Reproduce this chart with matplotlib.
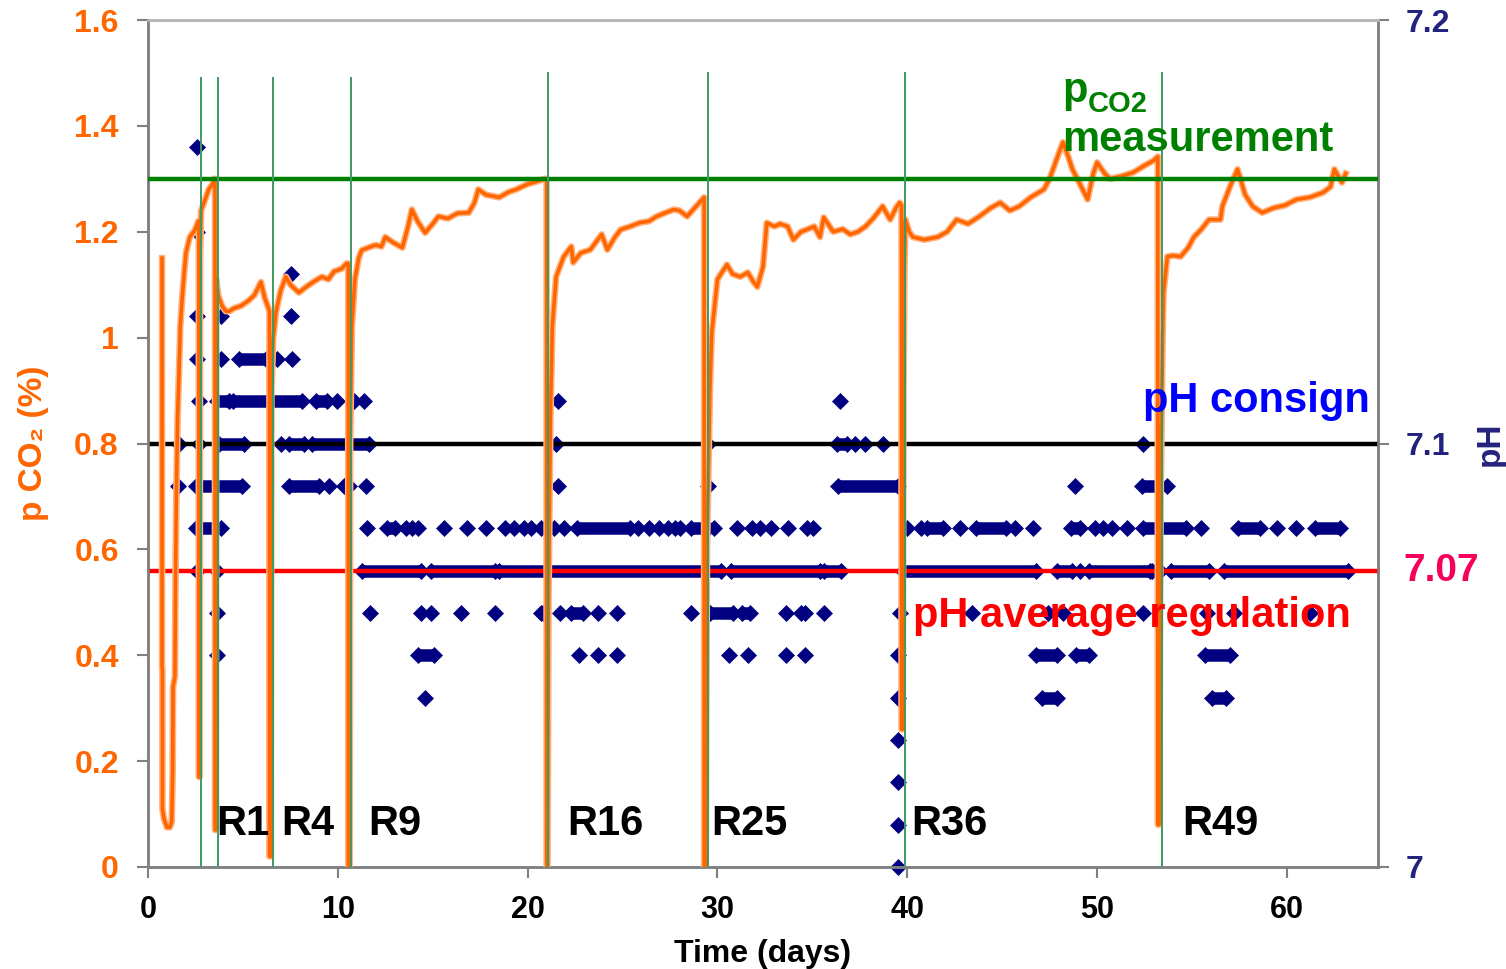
import matplotlib
matplotlib.use("Agg")
import matplotlib.pyplot as plt

plt.rcParams['font.family'] = ['Liberation Sans', 'DejaVu Sans']
plt.rcParams['font.weight'] = 'bold'

# ---------------- data ----------------
# pCO2 measurement (%), time in days
pco2_days = [
    0.74, 0.74, 0.76, 0.76, 0.85, 1.0, 1.15, 1.25, 1.3, 1.32, 1.42, 1.45, 1.5, 1.56, 1.63, 1.7, 1.79, 1.9,
    2.0, 2.2, 2.42, 2.55, 2.65,
    2.68, 2.68, 2.72, 2.74, 2.8, 3.0, 3.2, 3.4, 3.5,
    3.53, 3.53, 3.58, 3.6, 3.7, 3.9, 4.1, 4.3, 4.5, 4.9, 5.3, 5.6, 5.95, 6.15, 6.3,
    6.4, 6.4, 6.47, 6.5, 6.6, 6.75, 7.0, 7.26, 7.5, 7.95, 8.3, 8.7, 9.16, 9.5, 9.8, 10.2, 10.45,
    10.55, 10.55, 10.62, 10.65, 10.74, 10.9, 11.1, 11.26, 11.6, 12.0, 12.3, 12.5, 12.9, 13.4, 13.7, 13.9,
    14.2, 14.6, 15.0, 15.3, 15.8, 16.3, 16.9, 17.2, 17.4, 17.8, 18.5, 19.0, 19.4, 20.0, 20.5, 20.9,
    21.0, 21.0, 21.05, 21.1, 21.2, 21.3, 21.5, 21.9, 22.3, 22.4, 22.8, 23.3, 23.9, 24.2, 24.6, 24.9,
    25.4, 25.9, 26.4, 26.8, 27.2, 27.7, 28.0, 28.4, 28.8, 29.2,
    29.3, 29.3, 29.38, 29.45, 29.6, 29.7, 30.0, 30.5, 30.8, 31.2, 31.6, 31.9, 32.1, 32.4, 32.6, 33.0,
    33.3, 33.7, 34.0, 34.4, 34.7, 35.1, 35.4, 35.6, 36.1, 36.6, 37.0, 37.4, 37.8, 38.2, 38.7, 39.1, 39.4, 39.6,
    39.7, 39.7, 39.76, 39.8, 39.85, 39.9, 40.1, 40.3, 40.9, 41.6, 42.1, 42.6, 43.2, 43.8, 44.4, 44.9,
    45.4, 45.9, 46.5, 47.2, 47.5, 47.9, 48.2, 48.5, 48.7, 49.1, 49.5, 49.8, 50.0, 50.4, 50.7, 51.3,
    51.9, 52.5, 53.0, 53.2,
    53.2, 53.2, 53.27, 53.35, 53.45, 53.5, 53.7, 54.0, 54.4, 54.8, 55.1, 55.5, 55.9, 56.5, 56.6, 57.0,
    57.4, 57.8, 58.2, 58.7, 59.3, 59.9, 60.5, 61.2, 61.9, 62.3, 62.5, 62.9, 63.1,
]
pco2_values = [
    1.15, 0.38, 0.37, 0.11, 0.09, 0.075, 0.075, 0.085, 0.18, 0.34, 0.36, 0.55, 0.72, 0.85, 0.93, 1.02, 1.07, 1.12,
    1.16, 1.19, 1.20, 1.21, 1.22,
    1.22, 0.17, 0.17, 1.15, 1.24, 1.26, 1.28, 1.29, 1.30,
    1.30, 0.07, 0.07, 1.11, 1.08, 1.06, 1.05, 1.05, 1.055, 1.06, 1.07, 1.08, 1.105, 1.075, 1.06,
    1.05, 0.02, 0.02, 0.90, 1.00, 1.05, 1.09, 1.115, 1.10, 1.085, 1.095, 1.105, 1.115, 1.11, 1.125, 1.13, 1.14,
    1.14, 0.0, 0.0, 0.80, 1.02, 1.11, 1.15, 1.165, 1.17, 1.175, 1.172, 1.19, 1.18, 1.17, 1.21, 1.242,
    1.22, 1.198, 1.215, 1.229, 1.225, 1.235, 1.236, 1.255, 1.28, 1.27, 1.265, 1.275, 1.28, 1.29, 1.295, 1.30,
    1.30, 0.0, 0.0, 0.50, 0.85, 1.02, 1.115, 1.153, 1.172, 1.142, 1.16, 1.166, 1.195, 1.166, 1.19, 1.204,
    1.21, 1.217, 1.22, 1.229, 1.235, 1.242, 1.24, 1.229, 1.245, 1.261,
    1.265, 0.0, 0.0, 0.60, 0.90, 1.009, 1.11, 1.138, 1.12, 1.115, 1.123, 1.105, 1.096, 1.134, 1.217, 1.21,
    1.215, 1.21, 1.185, 1.20, 1.204, 1.21, 1.19, 1.227, 1.20, 1.205, 1.195, 1.20, 1.21, 1.225, 1.248, 1.223, 1.245, 1.255,
    1.25, 0.26, 0.26, 0.90, 1.13, 1.223, 1.20, 1.19, 1.185, 1.19, 1.20, 1.223, 1.215, 1.229, 1.245, 1.255,
    1.24, 1.248, 1.265, 1.28, 1.30, 1.34, 1.369, 1.34, 1.318, 1.29, 1.261, 1.31, 1.331, 1.31, 1.30, 1.305,
    1.312, 1.325, 1.335, 1.342,
    1.342, 0.08, 0.08, 0.70, 1.00, 1.085, 1.153, 1.155, 1.153, 1.17, 1.19, 1.205, 1.223, 1.223, 1.248, 1.285,
    1.318, 1.27, 1.248, 1.236, 1.245, 1.25, 1.261, 1.265, 1.274, 1.285, 1.318, 1.293, 1.31,
]

# pH measurements: isolated points and dense runs (start, end) per pH level
dots_7_17 = [2.58]
dots_7_15 = [2.58]
dots_7_14 = [7.53]
dots_7_13 = [2.58, 3.84, 7.53]
dots_7_12 = [2.58, 3.84, 6.79, 7.58]
runs_7_12 = [(4.79, 6.21)]
dots_7_11 = [2.68, 9.95, 10.84, 11.37, 21.58, 36.47]
runs_7_11 = [(3.63, 4.26), (4.5, 8.1), (8.84, 9.45)]
dots_7_10 = [1.63, 2.68, 7.0, 21.47, 29.5, 37.26, 37.8, 38.7, 52.4]
runs_7_10 = [(3.74, 5.05), (7.42, 8.2), (8.63, 11.63), (36.3, 36.8)]
dots_7_09 = [1.58, 9.53, 10.3, 10.6, 11.47, 21.58, 29.5, 48.84, 53.68]
runs_7_09 = [(2.53, 4.95), (7.42, 9.0), (36.37, 39.5), (52.37, 53.3)]
dots_7_08 = [11.53, 13.6, 13.9, 14.2, 15.6, 16.8, 17.8, 18.8, 19.3, 19.8, 20.2, 20.7, 20.9, 21.4,
             21.9, 25.84, 26.4, 26.9, 27.4, 27.75, 28.05, 29.8, 31.05, 31.84, 32.26, 32.8, 33.7,
             34.7, 35.05, 40.0, 40.7, 42.8, 45.7, 46.6, 49.9, 50.3, 50.8, 51.6, 55.5, 59.5, 60.5]
runs_7_08 = [(2.53, 3.84), (12.6, 13.0), (22.6, 25.4), (28.6, 29.5), (41.05, 41.9), (43.6, 45.2),
             (48.6, 49.1), (52.4, 54.7), (57.4, 58.6), (61.5, 62.8)]
dots_7_07 = [2.58, 3.63, 49.1]
runs_7_07 = [(11.26, 14.4), (14.9, 18.3), (18.5, 30.2), (30.7, 35.4), (35.6, 36.5), (39.8, 46.8),
             (47.9, 48.7), (49.6, 52.8), (52.9, 53.3), (53.9, 55.9), (56.7, 63.2)]
dots_7_06 = [3.63, 11.7, 14.4, 14.9, 16.5, 18.3, 20.7, 20.8, 21.7, 23.7, 24.7, 28.6, 33.6, 34.4,
             34.6, 35.6, 39.6, 43.4, 47.4, 48.2, 52.4, 55.8, 57.2, 61.2]
runs_7_06 = [(22.3, 22.9), (29.6, 30.8), (31.3, 31.7)]
dots_7_05 = [3.63, 22.7, 23.7, 24.7, 30.6, 31.6, 33.6, 34.6, 39.5]
runs_7_05 = [(14.2, 15.05), (46.8, 47.9), (48.9, 49.6), (55.7, 57.0)]
dots_7_04 = [14.6, 39.5]
runs_7_04 = [(47.1, 47.9), (56.05, 56.8)]
dots_7_03 = [39.5]
dots_7_02 = [39.5]
dots_7_01 = [39.5]
dots_7_00 = [39.5]

# reference values
pco2_measurement_level = 1.3
ph_consign = 7.10
ph_average = 7.07

# renewal events (vertical lines) and labels
renewal_days = [2.81, 3.68, 6.59, 10.67, 21.09, 29.51, 39.86, 53.4]
renewal_tops = [1.49, 1.49, 1.49, 1.49, 1.50, 1.50, 1.50, 1.50]
r_labels = ['R1', 'R4', 'R9', 'R16', 'R25', 'R36', 'R49']
r_label_days = [3.58, 7.0, 11.58, 22.1, 29.7, 40.2, 54.5]

x_ticks = [0, 10, 20, 30, 40, 50, 60]
left_ticks = [0, 0.2, 0.4, 0.6, 0.8, 1.0, 1.2, 1.4, 1.6]
left_tick_labels = ['0', '0.2', '0.4', '0.6', '0.8', '1', '1.2', '1.4', '1.6']
right_ticks = [7.0, 7.1, 7.2]
right_tick_labels = ['7', '7.1', '7.2']

# ---------------- plot ----------------
ORANGE = '#FF6600'
LIGHT_ORANGE = '#FFB380'
NAVY = '#000080'
GREY = '#808080'
RNAVY = '#23237F'

fig = plt.figure(figsize=(15.06, 9.69), dpi=100)
ax = fig.add_axes([148 / 1506, 1 - 867 / 969, 1230 / 1506, 847 / 969])
ax2 = ax.twinx()
ax.set_zorder(ax2.get_zorder() + 1)
ax.patch.set_visible(False)

ax.set_xlim(0, 64.8)
ax.set_ylim(0, 1.6)
ax2.set_ylim(7.0, 7.2)

levels = [
    (7.17, dots_7_17, []), (7.15, dots_7_15, []), (7.14, dots_7_14, []), (7.13, dots_7_13, []),
    (7.12, dots_7_12, runs_7_12), (7.11, dots_7_11, runs_7_11), (7.10, dots_7_10, runs_7_10),
    (7.09, dots_7_09, runs_7_09), (7.08, dots_7_08, runs_7_08), (7.07, dots_7_07, runs_7_07),
    (7.06, dots_7_06, runs_7_06), (7.05, dots_7_05, runs_7_05), (7.04, dots_7_04, runs_7_04),
    (7.03, dots_7_03, []), (7.02, dots_7_02, []), (7.01, dots_7_01, []), (7.00, dots_7_00, []),
]
MS = 8.5
for lvl, dots, runs in levels:
    if dots:
        ax2.plot(dots, [lvl] * len(dots), linestyle='none', marker='D', ms=MS,
                 color=NAVY, mec=NAVY, mew=0.5, zorder=2, clip_on=False)
    for a, b in runs:
        ax2.plot([a, b], [lvl, lvl], color=NAVY, lw=9.0, solid_capstyle='butt', zorder=2)
        ax2.plot([a, b], [lvl, lvl], linestyle='none', marker='D', ms=MS, color=NAVY,
                 mec=NAVY, mew=0.5, zorder=2)

# reference pH lines
ax2.axhline(ph_consign, color='black', lw=3.2, zorder=3)
ax2.axhline(ph_average, color='#FF0000', lw=3.2, zorder=3)

# pCO2 curve (light halo + core)
ax.plot(pco2_days, pco2_values, color=LIGHT_ORANGE, lw=4.8, zorder=3, solid_joinstyle='round')
ax.plot(pco2_days, pco2_values, color=ORANGE, lw=2.6, zorder=3, solid_joinstyle='round')
ax.axhline(pco2_measurement_level, color='#008000', lw=3.2, zorder=4)

# renewal vertical lines
for d, top in zip(renewal_days, renewal_tops):
    ax.plot([d, d], [0, top], color='#3D9B63', lw=1.4, zorder=5)

for lab, d in zip(r_labels, r_label_days):
    ax.text(d, 0.06, lab, fontsize=30, fontweight='bold', color='black',
            ha='left', va='baseline', zorder=6)

# annotations
ax.text(48.16, 1.446, 'p', fontsize=30, fontweight='bold', color='#008000', ha='left', va='baseline', zorder=6)
ax.text(49.5, 1.427, 'CO2', fontsize=21, fontweight='bold', color='#008000', ha='left', va='baseline', zorder=6)
ax.text(48.16, 1.352, 'measurement', fontsize=30, fontweight='bold', color='#008000', ha='left', va='baseline', zorder=6)
ax.text(52.4, 0.86, 'pH consign', fontsize=30, fontweight='bold', color='#0000FF', ha='left', va='baseline', zorder=6)
ax.text(40.3, 0.454, 'pH average regulation', fontsize=30, fontweight='bold', color='#FF0000',
        ha='left', va='baseline', zorder=6)

# axes styling
for a_ in (ax, ax2):
    for s in a_.spines.values():
        s.set_color(GREY)
        s.set_linewidth(1.8)
ax.spines['top'].set_color('#BBBBBB')

ax.set_xticks(x_ticks)
ax.set_xticklabels([str(t) for t in x_ticks])
ax.tick_params(axis='x', direction='out', length=8, width=1.5, color=GREY, labelsize=22, pad=12,
               labelcolor='black')
ax.set_yticks(left_ticks)
ax.set_yticklabels(left_tick_labels)
ax.tick_params(axis='y', direction='out', length=8, width=1.5, color=GREY, labelsize=23, pad=13,
               labelcolor=ORANGE)
ax2.set_yticks(right_ticks)
ax2.set_yticklabels(right_tick_labels)
ax2.tick_params(axis='y', direction='out', length=8, width=1.5, color=GREY, labelsize=23, pad=12,
                labelcolor=RNAVY)
for t in ax.get_xticklabels() + ax.get_yticklabels() + ax2.get_yticklabels():
    t.set_fontweight('bold')

ax2.text(1.0203, ph_average, '7.07', transform=ax2.get_yaxis_transform(), fontsize=28,
         fontweight='bold', color='#F5005A', ha='left', va='center', clip_on=False)

ax.set_xlabel('Time (days)', fontsize=23, fontweight='bold', labelpad=10)
ax.set_ylabel('p CO\u2082 (%)', fontsize=24, fontweight='bold', color=ORANGE, labelpad=18)
ax2.set_ylabel('pH', fontsize=24, fontweight='bold', color=RNAVY, rotation=90, labelpad=18)

fig.savefig('out.png', dpi=100)
